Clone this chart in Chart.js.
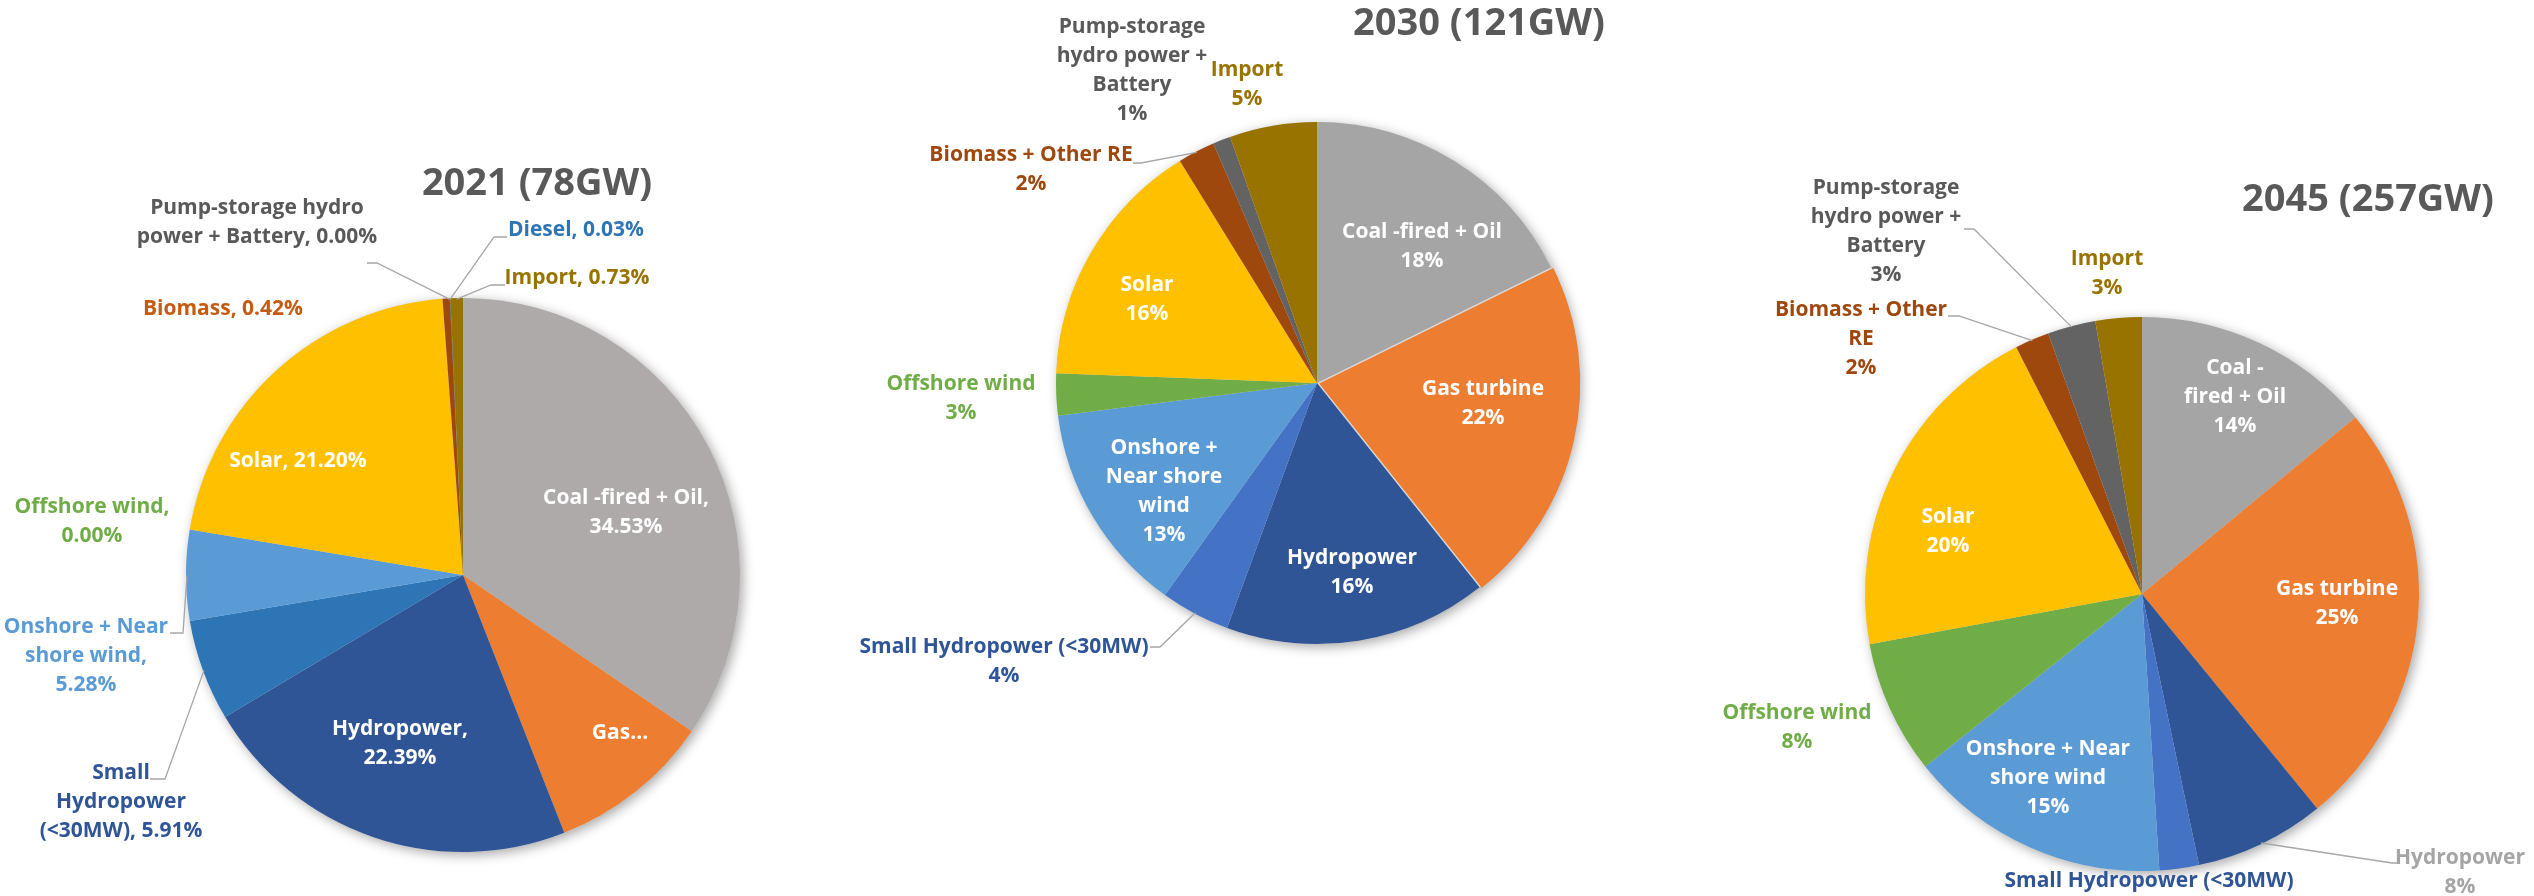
<!DOCTYPE html>
<html>
<head>
<meta charset="utf-8">
<title>Installed capacity mix 2021 / 2030 / 2045</title>
<script src="https://cdn.jsdelivr.net/npm/chart.js@4.4.1/dist/chart.umd.min.js"></script>
<style>
  html, body { margin: 0; padding: 0; background: #fff; }
  #wrap { position: relative; width: 2534px; height: 896px; overflow: hidden; }
  #wrap canvas { position: absolute; left: 0; top: 0; }
</style>
</head>
<body>
<div id="wrap">
  <canvas id="pie2021" width="2534" height="896"></canvas>
  <canvas id="pie2030" width="2534" height="896"></canvas>
  <canvas id="pie2045" width="2534" height="896"></canvas>
</div>
<script>
// ---------- data (shares in % of installed capacity) ----------
const titles = ['2021 (78GW)', '2030 (121GW)', '2045 (257GW)'];

const sources2021 = ['Coal -fired + Oil', 'Gas turbine', 'Hydropower', 'Small Hydropower (<30MW)',
  'Onshore + Near shore wind', 'Offshore wind', 'Solar', 'Biomass',
  'Pump-storage hydro power + Battery', 'Diesel', 'Import'];
const share2021 = [34.53, 9.51, 22.39, 5.91, 5.28, 0.00, 21.20, 0.42, 0.00, 0.03, 0.73];

const sources2030 = ['Coal -fired + Oil', 'Gas turbine', 'Hydropower', 'Small Hydropower (<30MW)',
  'Onshore + Near shore wind', 'Offshore wind', 'Solar', 'Biomass + Other RE',
  'Pump-storage hydro power + Battery', 'Import'];
const share2030 = [17.7, 21.6, 16.3, 4.3, 13.1, 2.6, 15.6, 2.3, 1.1, 5.4];

const sources2045 = sources2030;
const share2045 = [14.0, 25.1, 7.6, 2.3, 15.3, 7.8, 20.4, 2.0, 2.8, 2.7];

// ---------- styles ----------
const colors2021 = ['#AEAAAA', '#ED7D31', '#2F5597', '#2E75B6', '#5B9BD5', '#70AD47',
  '#FFC000', '#9E480E', '#636363', '#264478', '#997300'];
const colorsLater = ['#A5A5A5', '#ED7D31', '#2F5597', '#4472C4', '#5B9BD5', '#70AD47',
  '#FFC000', '#9E480E', '#636363', '#997300'];

const FONT = '"Open Sans", "Liberation Sans", sans-serif';
const LINE_H = 29;
const LEADER = '#A6A6A6';

// where each pie sits on the page
const place2021 = { cx: 463, cy: 575, r: 277 };
const place2030 = { cx: 1317, cy: 383, r: 261 };
const place2045 = { cx: 2142, cy: 594, r: 277 };

// label text / placement, relative to the pie centre. '#' is replaced by the share
const text2021 = [
  { lines: ['Coal -fired + Oil,', '#'], at: [163, -62], color: '#fff' },
  { lines: ['Gas…'], at: [157, 158], color: '#fff' },
  { lines: ['Hydropower,', '#'], at: [-63, 169], color: '#fff' },
  { lines: ['Small', 'Hydropower', '(<30MW), #'], at: [-342, 227], color: '#2F5597', leader: [[-313, 204], [-298, 204]] },
  { lines: ['Onshore + Near', 'shore wind,', '#'], at: [-377, 81], color: '#5B9BD5', leader: [[-293, 58], [-280, 58]] },
  { lines: ['Offshore wind,', '#'], at: [-371, -53], color: '#70AD47' },
  { lines: ['Solar, #'], at: [-165, -114], color: '#fff' },
  { lines: ['Biomass, #'], at: [-240, -266], color: '#C55A11' },
  { lines: ['Pump-storage hydro', 'power + Battery, #'], at: [-206, -352], color: '#595959', leader: [[-96, -312], [-86, -312]] },
  { lines: ['Diesel, #'], at: [113, -345], color: '#2E75B6', leader: [[44, -338], [31, -338]] },
  { lines: ['Import, #'], at: [114, -297], color: '#997300', leader: [[42, -290], [28, -290]] }
];

const text2030 = [
  { lines: ['Coal -fired + Oil', '#'], at: [105, -136], color: '#fff' },
  { lines: ['Gas turbine', '#'], at: [166, 21], color: '#fff' },
  { lines: ['Hydropower', '#'], at: [35, 190], color: '#fff' },
  { lines: ['Small Hydropower (<30MW)', '#'], at: [-313, 279], color: '#2F5597', leader: [[-167, 264], [-157, 264]] },
  { lines: ['Onshore +', 'Near shore', 'wind', '#'], at: [-153, 109], color: '#fff' },
  { lines: ['Offshore wind', '#'], at: [-356, 16], color: '#70AD47' },
  { lines: ['Solar', '#'], at: [-170, -83], color: '#fff' },
  { lines: ['Biomass + Other RE', '#'], at: [-286, -213], color: '#9E480E', leader: [[-184, -220], [-176, -220]] },
  { lines: ['Pump-storage', 'hydro power +', 'Battery', '#'], at: [-185, -312], color: '#595959' },
  { lines: ['Import', '#'], at: [-70, -298], color: '#997300' }
];

const text2045 = [
  { lines: ['Coal -', 'fired + Oil', '#'], at: [93, -197], color: '#fff' },
  { lines: ['Gas turbine', '#'], at: [195, 10], color: '#fff' },
  { lines: ['Hydropower', '#'], at: [318, 279], color: '#A5A5A5', leader: [[255, 269], [250, 269]] },
  { lines: ['Small Hydropower (<30MW)', '#'], at: [7, 302], color: '#2F5597' },
  { lines: ['Onshore + Near', 'shore wind', '#'], at: [-94, 184], color: '#fff' },
  { lines: ['Offshore wind', '#'], at: [-345, 134], color: '#70AD47' },
  { lines: ['Solar', '#'], at: [-194, -62], color: '#fff' },
  { lines: ['Biomass + Other', 'RE', '#'], at: [-281, -255], color: '#9E480E', leader: [[-194, -278], [-183, -278]] },
  { lines: ['Pump-storage', 'hydro power +', 'Battery', '#'], at: [-256, -362], color: '#595959', leader: [[-178, -365], [-168, -365]] },
  { lines: ['Import', '#'], at: [-35, -320], color: '#997300' }
];

// ---------- plugin: shadow under the pie, labels, leader lines, title ----------
const pieText = {
  id: 'pieText',
  beforeDatasetsDraw(chart) {
    const arc = chart.getDatasetMeta(0).data[0];
    const ctx = chart.ctx;
    ctx.save();
    ctx.shadowColor = 'rgba(0,0,0,0.35)';
    ctx.shadowBlur = 12;
    ctx.shadowOffsetX = 3;
    ctx.shadowOffsetY = 3;
    ctx.fillStyle = '#D9D9D9';
    ctx.beginPath();
    ctx.arc(arc.x, arc.y, arc.outerRadius, 0, Math.PI * 2);
    ctx.fill();
    ctx.restore();
  },
  afterDatasetsDraw(chart, args, opts) {
    const ctx = chart.ctx;
    const arcs = chart.getDatasetMeta(0).data;
    const values = chart.data.datasets[0].data;
    const total = values.reduce((a, b) => a + b, 0);
    const cx = arcs[0].x, cy = arcs[0].y, r = arcs[0].outerRadius;

    ctx.save();
    opts.labels.forEach((lab, i) => {
      const p = values[i] / total * 100;
      const pctText = opts.digits ? p.toFixed(opts.digits) + '%' : Math.round(p) + '%';

      if (lab.leader) {
        const a = arcs[i];
        const mid = (a.startAngle + a.endAngle) / 2;
        ctx.strokeStyle = LEADER;
        ctx.lineWidth = 1.3;
        ctx.beginPath();
        ctx.moveTo(cx + lab.leader[0][0], cy + lab.leader[0][1]);
        ctx.lineTo(cx + lab.leader[1][0], cy + lab.leader[1][1]);
        ctx.lineTo(cx + Math.cos(mid) * (r - 1), cy + Math.sin(mid) * (r - 1));
        ctx.stroke();
      }

      ctx.fillStyle = lab.color;
      ctx.font = 'bold 21px ' + FONT;
      ctx.textAlign = 'center';
      ctx.textBaseline = 'middle';
      const n = lab.lines.length;
      lab.lines.forEach((ln, k) => {
        ctx.fillText(ln.replace('#', pctText), cx + lab.at[0], cy + lab.at[1] + (k - (n - 1) / 2) * LINE_H);
      });
    });

    // chart title
    ctx.fillStyle = '#595959';
    ctx.font = 'bold 38px ' + FONT;
    ctx.textAlign = 'center';
    ctx.textBaseline = 'middle';
    ctx.fillText(opts.title, cx + opts.titleAt[0], cy + opts.titleAt[1]);
    ctx.restore();
  }
};

function makePie(id, sources, shares, colors, place, labels, title, titleAt, digits, offsets) {
  const W = 2534, H = 896;
  return new Chart(document.getElementById(id), {
    type: 'pie',
    data: {
      labels: sources,
      datasets: [{
        data: shares,
        backgroundColor: colors,
        borderWidth: 0,
        offset: offsets || 0
      }]
    },
    options: {
      responsive: false,
      animation: false,
      radius: place.r,
      layout: {
        padding: {
          left: place.cx - place.r,
          right: W - place.cx - place.r,
          top: place.cy - place.r,
          bottom: H - place.cy - place.r
        }
      },
      plugins: {
        legend: { display: false },
        tooltip: { enabled: false },
        pieText: { labels, title, titleAt, digits }
      }
    },
    plugins: [pieText]
  });
}

makePie('pie2021', sources2021, share2021, colors2021, place2021, text2021, titles[0], [74, -391], 2);
makePie('pie2030', sources2030, share2030, colorsLater, place2030, text2030, titles[1], [162, -359], 0,
  [0, 9, 0, 0, 0, 0, 0, 0, 0, 0]);
makePie('pie2045', sources2045, share2045, colorsLater, place2045, text2045, titles[2], [226, -394], 0);
</script>
</body>
</html>
